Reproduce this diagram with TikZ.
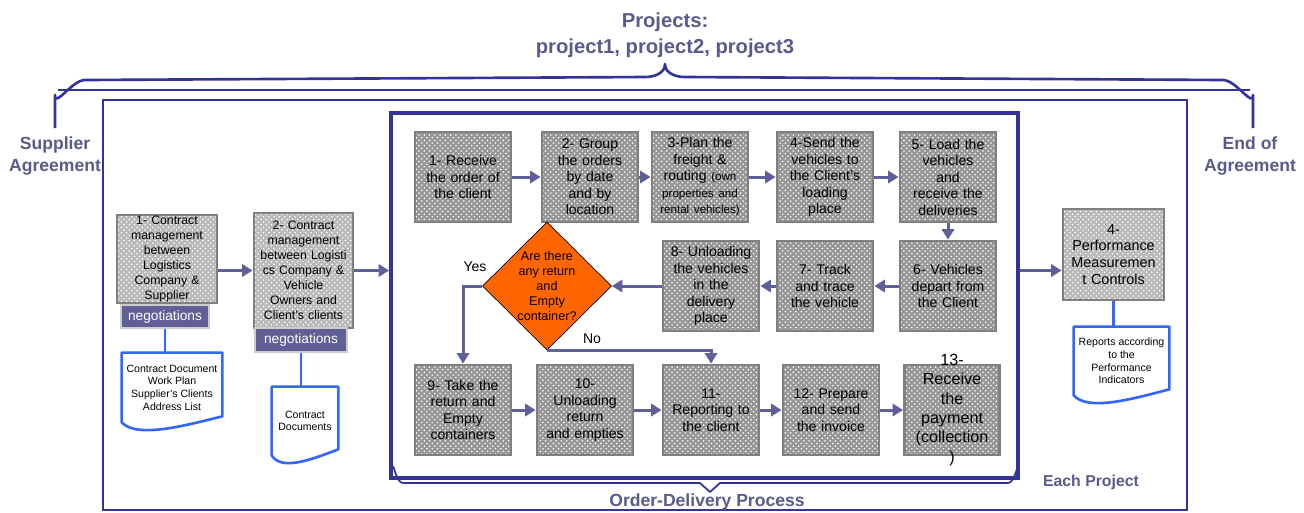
\documentclass[tikz,border=0pt]{standalone}
\usepackage{fontspec}
\setmainfont{Liberation Sans}
\usetikzlibrary{arrows.meta,shapes.geometric,patterns,calc}
\definecolor{titleblue}{RGB}{90,90,140}
\definecolor{frameblue}{RGB}{51,51,153}
\definecolor{flowblue}{RGB}{95,95,155}
\definecolor{negblue}{RGB}{96,96,150}
\definecolor{docblue}{RGB}{51,102,255}
\definecolor{boxgray}{RGB}{128,128,128}
\definecolor{boxfill}{RGB}{150,150,150}
\definecolor{contractfill}{RGB}{185,185,185}
\definecolor{qorange}{RGB}{255,102,0}
\tikzstyle{proc} = [draw=boxgray, line width=1.6pt, preaction={fill=boxfill}, pattern=crosshatch dots, pattern color=white, minimum width=1.92cm, minimum height=1.8cm, text width=1.9cm, align=center, inner sep=0pt, font={\fontsize{8}{9.4}\selectfont}]
\tikzstyle{contract} = [proc, preaction={fill=contractfill}, font={\fontsize{7}{8.5}\selectfont}]
\tikzstyle{neg} = [draw=gray!40, line width=1.3pt, fill=negblue, text=white, inner sep=0pt, font={\fontsize{7.8}{9}\selectfont}]
\tikzstyle{docu} = [inner sep=0pt, align=center, font={\fontsize{6}{7.2}\selectfont}]
\tikzstyle{docline} = [draw=docblue, line width=1.5pt, line join=round]
\tikzstyle{flow} = [draw=flowblue, line width=1.7pt, -{Triangle[length=6pt,width=7pt]}]
\tikzstyle{frame} = [draw=frameblue, inner sep=0pt]
\tikzstyle{brace} = [draw=frameblue, line width=1.5pt, line join=round]
\tikzstyle{heading} = [text=titleblue, align=center, font={\bfseries\fontsize{10}{12}\selectfont}]
\tikzstyle{question} = [diamond, draw=black, line width=0.4pt, fill=qorange, minimum width=2.58cm, minimum height=2.5cm, inner sep=0pt, align=center, font={\fontsize{7.2}{8.5}\selectfont}]
\tikzstyle{lbl} = [inner sep=1pt, font={\fontsize{8}{9}\selectfont}]
\newcommand{\docpage}[1]{\draw[docline] (#1.south west) -- (#1.north west) -- (#1.north east) -- ($(#1.south east)+(0,-6)$) .. controls ($(#1.south west)!0.6!(#1.south east)+(0,4)$) and ($(#1.south west)!0.15!(#1.south east)+(0,16)$) .. (#1.south west) -- cycle;}

\begin{document}
\begin{tikzpicture}[x=0.02cm,y=-0.02cm]
        \useasboundingbox (0,0) rectangle (1304,512);
        \node[frame,line width=1.3pt,minimum width=21.68cm,minimum height=8.2cm](each) at (645,305){};
        \node[frame,line width=2.2pt,minimum width=12.54cm,minimum height=7.3cm](odp) at (704.5,295.5){};
        \draw[brace](55,128)--(55,95)to[out=-90,in=180](85,80)--(645,77)to[out=0,in=-90](665,64)to[out=-90,in=180](685,77)--(1223,80)to[out=0,in=-90](1253,95)--(1253,128);
        \draw[brace,line width=0.8pt](58,90)--(1250,90);
        \draw[brace,line width=1pt](393,468)to[out=90,in=180](403,483)--(700,483)--(710,492)--(720,483)--(1008,483)to[out=0,in=90](1018,468);
        \node[heading,font={\bfseries\fontsize{11.5}{14.7}\selectfont}](projects) at (665,35){Projects:\\project1, project2, project3};
        \node[heading](supplier) at (55,156){Supplier\\Agreement};
        \node[heading](endagr) at (1250,156){End of\\Agreement};
        \node[heading](odplabel) at (707,502){Order-Delivery Process};
        \node[heading,font={\bfseries\fontsize{9}{11}\selectfont}](eachlabel) at (1091,482){Each Project};
        \node[contract,minimum width=2cm,minimum height=1.76cm](c1) at (167,259){1- Contract\\management\\between\\Logistics\\Company \&\\Supplier};
        \node[neg,minimum width=1.76cm,minimum height=0.46cm](n1) at (165,316.5){negotiations};
        \node[docu,minimum width=2cm,minimum height=1.38cm](d1) at (172,387.5){Contract Document\\Work Plan\\Supplier's Clients\\Address List};
        \docpage{d1}
        \node[contract,minimum width=1.98cm,minimum height=2.3cm,text width=1.95cm](c2) at (303.5,270.5){2- Contract\\management\\between Logisti\\cs Company \&\\Vehicle\\Owners and\\Client's clients};
        \node[neg,minimum width=1.84cm,minimum height=0.48cm](n2) at (301,340){negotiations};
        \node[docu,minimum width=1.32cm,minimum height=1.36cm](d2) at (305,421){Contract\\Documents};
        \docpage{d2}
        \node[contract,minimum width=2.02cm,minimum height=1.82cm,font={\fontsize{8.2}{9.6}\selectfont}](pm) at (1113.5,254.5){4-\\Performance\\Measuremen\\t Controls};
        \node[docu,minimum width=1.9cm,minimum height=1.36cm](d3) at (1121.5,361){Reports according\\to the\\Performance\\Indicators};
        \docpage{d3}
        \node[proc](r1) at (463,177){1- Receive\\the order of\\the client};
        \node[proc](r2) at (590,177){2- Group\\the orders\\by date\\and by\\location};
        \node[proc](r3) at (700,177){3-Plan the\\freight \&\\routing {\fontsize{6.6}{9.4}\selectfont(own\\properties and\\rental vehicles)}};
        \node[proc](r4) at (825,177){4-Send the\\vehicles to\\the Client's\\loading\\place};
        \node[proc](r5) at (948,177){5- Load the\\vehicles\\and\\receive the\\deliveries};
        \node[proc](r6) at (948,286){6- Vehicles\\depart from\\the Client};
        \node[proc](r7) at (825,286){7- Track\\and trace\\the vehicle};
        \node[proc](r8) at (711,286){8- Unloading\\the vehicles\\in the\\delivery\\place};
        \node[question](q) at (547,286){Are there\\any return\\and\\Empty\\container?};
        \node[proc](r9) at (463,410){9- Take the\\return and\\Empty\\containers};
        \node[proc](r10) at (585,410){10-\\Unloading\\return\\and empties};
        \node[proc](r11) at (711,410){11-\\Reporting to\\the client};
        \node[proc](r12) at (831,410){12- Prepare\\and send\\the invoice};
        \node[proc,minimum width=1.8cm](r13) at (952,410){};
        \node[lbl,align=center,font={\fontsize{9.2}{11}\selectfont}](r13text) at (r13){13-\\Receive\\the\\payment\\(collection\\)};
        \node[lbl](yes) at (475,267){Yes};
        \node[lbl](no) at (592,339){No};
        \draw[flow](c1.east |- c2.west)--(c2.west);
        \draw[flow](c2.east)--(c2.east -| odp.west);
        \draw[flow](odp.east |- c2.east)--(pm.west |- c2.east);
        \draw[docline](n1.south)--(n1.south |- d1.north);
        \draw[docline](n2.south)--(n2.south |- d2.north);
        \draw[docline](pm.south)--(pm.south |- d3.north);
        \draw[flow](r1)--(r2);
        \draw[flow](r2)--(r3);
        \draw[flow](r3)--(r4);
        \draw[flow](r4)--(r5);
        \draw[flow](r5)--(r6);
        \draw[flow](r6)--(r7);
        \draw[flow](r7)--(r8);
        \draw[flow](r8)--(q);
        \draw[flow](q.west)-|(r9.north);
        \draw[flow](q.south)-|(r11.north);
        \draw[flow](r9)--(r10);
        \draw[flow](r10)--(r11);
        \draw[flow](r11)--(r12);
        \draw[flow](r12)--(r13);
\end{tikzpicture}
\end{document}
